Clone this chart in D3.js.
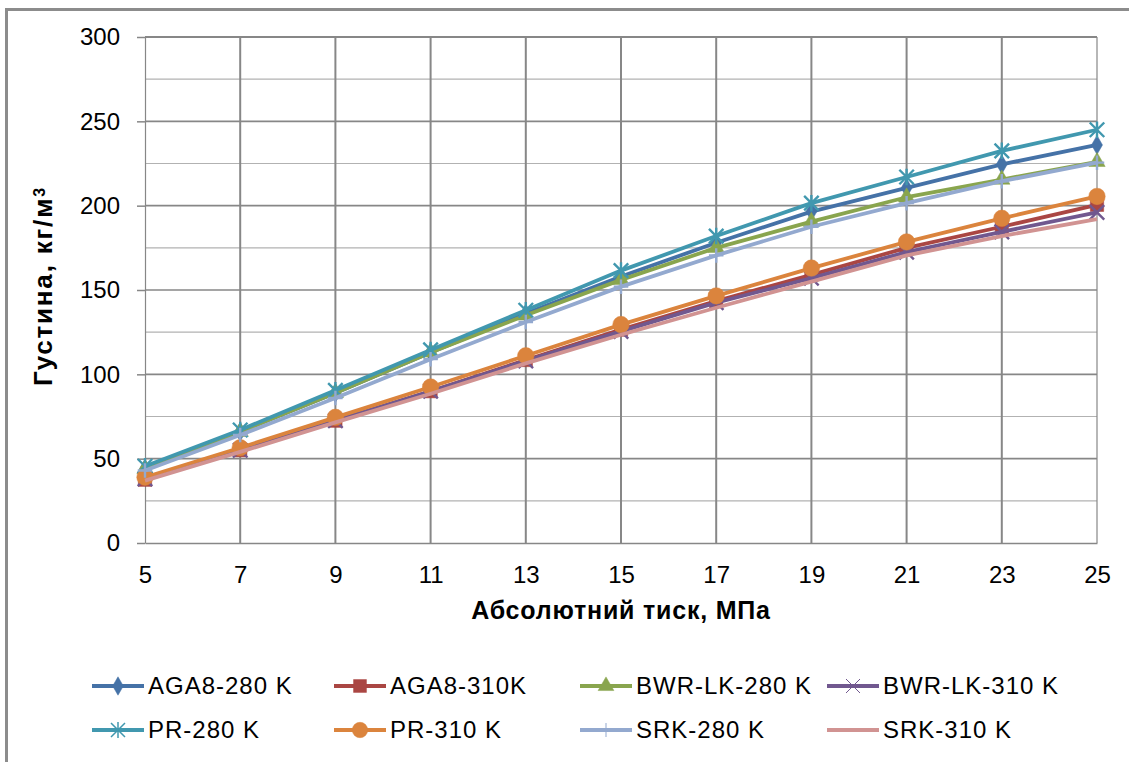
<!DOCTYPE html>
<html>
<head>
<meta charset="utf-8">
<script src="https://cdn.jsdelivr.net/npm/d3@7"></script>
<style>
  body { margin: 0; background: #fff; }
  svg { display: block; font-family: "Liberation Sans", Arial, sans-serif; }
</style>
</head>
<body>
<div id="chart"></div>
<script>
// pressure, MPa
const pressure = [5, 7, 9, 11, 13, 15, 17, 19, 21, 23, 25];

// density, kg/m3
const aga8_280 = [44, 66, 89, 113, 136, 158, 178, 196.5, 210.5, 224.5, 236];
const aga8_310 = [37.5, 55, 72.5, 90, 108.5, 126.5, 143.5, 159, 175, 187.5, 200.5];
const bwr_280 = [44, 66, 89, 113, 135, 156, 175, 190.5, 205, 215.5, 226];
const bwr_310 = [38, 55, 72.5, 90, 108, 125.5, 142.5, 157, 172.5, 184.5, 196];
const pr_280 = [45.5, 67, 90.5, 114.5, 138, 161.5, 182, 201.5, 217, 232.5, 245];
const pr_310 = [39, 56.5, 74.5, 92.5, 111, 129.5, 146.5, 163, 178.5, 192.5, 205.5];
const srk_280 = [43, 64, 86, 109, 131, 152, 170.5, 187.5, 201.5, 214.5, 225.5];
const srk_310 = [37, 54, 71.5, 88.5, 106.5, 123.5, 139.5, 155, 170.5, 182, 192];

const seriesNames = ["AGA8-280 K", "AGA8-310K", "BWR-LK-280 K", "BWR-LK-310 K",
  "PR-280 K", "PR-310 K", "SRK-280 K", "SRK-310 K"];
const seriesValues = [aga8_280, aga8_310, bwr_280, bwr_310, pr_280, pr_310, srk_280, srk_310];

const xTicks = [5, 7, 9, 11, 13, 15, 17, 19, 21, 23, 25];
const yTicks = [0, 50, 100, 150, 200, 250, 300];
const yMinor = [25, 75, 125, 175, 225, 275];

const colors = ["#4572A7", "#AA4643", "#89A54E", "#71588F", "#4198AF", "#DB843D", "#93A9CF", "#D19392"];
const markers = ["diamond", "square", "triangle", "x", "star", "circle", "plus", "none"];

const width = 1129;
const height = 762;

const svg = d3.select("#chart")
  .append("svg")
  .attr("width", width)
  .attr("height", height);

svg.append("rect").attr("width", width).attr("height", height).attr("fill", "#fff");

// outer chart border (only top and left visible)
svg.append("path")
  .attr("d", "M6.5,762 L6.5,9.5 L1129,9.5")
  .attr("fill", "none")
  .attr("stroke", "#8c8c8c")
  .attr("stroke-width", 3);

const x = d3.scaleLinear().domain([5, 25]).range([145, 1097]);
const y = d3.scaleLinear().domain([0, 300]).range([543, 37]);

// gridlines
const grid = svg.append("g");
grid.selectAll("line.minor")
  .data(yMinor)
  .join("line")
  .attr("class", "minor")
  .attr("x1", x(5)).attr("x2", x(25))
  .attr("y1", (d) => y(d)).attr("y2", (d) => y(d))
  .attr("stroke", "#b2b2b2")
  .attr("stroke-width", 1.2);

grid.selectAll("line.major")
  .data(yTicks.filter((d) => d > 0))
  .join("line")
  .attr("class", "major")
  .attr("x1", x(5)).attr("x2", x(25))
  .attr("y1", (d) => y(d)).attr("y2", (d) => y(d))
  .attr("stroke", "#878787")
  .attr("stroke-width", (d) => (d === 300 ? 2 : 1.7));

grid.selectAll("line.vert")
  .data(xTicks.filter((d) => d > 5))
  .join("line")
  .attr("class", "vert")
  .attr("x1", (d) => x(d)).attr("x2", (d) => x(d))
  .attr("y1", y(0)).attr("y2", y(300))
  .attr("stroke", "#878787")
  .attr("stroke-width", (d) => (d === 25 ? 1.2 : 2));

// axes
const yAxis = svg.append("g")
  .attr("transform", `translate(${x(5)},0)`)
  .call(d3.axisLeft(y).tickValues(yTicks).tickSize(8).tickSizeOuter(0).tickPadding(17));

const xAxis = svg.append("g")
  .attr("transform", `translate(0,${y(0)})`)
  .call(d3.axisBottom(x).tickValues(xTicks).tickSize(0).tickSizeOuter(0).tickPadding(23));

yAxis.select(".domain").attr("stroke", "#878787").attr("stroke-width", 1.2);
xAxis.select(".domain").attr("stroke", "#878787").attr("stroke-width", 1.5);
yAxis.selectAll(".tick line").attr("stroke", "#878787").attr("stroke-width", 1.5);
[yAxis, xAxis].forEach((ax) => {
  ax.selectAll(".tick text")
    .attr("fill", "#000")
    .style("font-size", "24px")
    .style("font-family", '"Liberation Sans", Arial, sans-serif');
});

// marker drawing
function markerPath(type, s) {
  const h = s / 2;
  switch (type) {
    case "diamond":
      return d3.symbol(d3.symbolDiamond, s * s * 0.5)();
    case "square":
      return d3.symbol(d3.symbolSquare, s * s * 0.85)();
    case "triangle":
      return d3.symbol(d3.symbolTriangle, s * s * 0.55)();
    case "circle":
      return d3.symbol(d3.symbolCircle, s * s * 0.95)();
    case "x":
      return `M${-h},${-h}L${h},${h}M${-h},${h}L${h},${-h}`;
    case "plus":
      return `M${-h},0L${h},0M0,${-h}L0,${h}`;
    case "star":
      return `M${-h},${-h}L${h},${h}M${-h},${h}L${h},${-h}M0,${-h - 1}L0,${h + 1}`;
    default:
      return "";
  }
}

function drawMarker(g, type, color, s, strokeW) {
  if (type === "none") return;
  const open = type === "x" || type === "plus" || type === "star";
  g.append("path")
    .attr("d", markerPath(type, s))
    .attr("fill", open ? "none" : color)
    .attr("stroke", color)
    .attr("stroke-width", open ? strokeW : 0.5);
}

const line = d3.line()
  .x((d, i) => x(pressure[i]))
  .y((d) => y(d));

const plot = svg.append("g");
seriesValues.forEach((vals, si) => {
  const g = plot.append("g");
  g.append("path")
    .attr("d", line(vals))
    .attr("fill", "none")
    .attr("stroke", colors[si])
    .attr("stroke-width", 3.8)
    .attr("stroke-linejoin", "round");

  vals.forEach((v, i) => {
    const m = g.append("g").attr("transform", `translate(${x(pressure[i])},${y(v)})`);
    drawMarker(m, markers[si], colors[si], markers[si] === "circle" ? 15 : 14.5, 2.4);
  });
});

// legend
const legendCols = [92, 334, 580, 827];
const legendRows = [686, 730];
const legend = svg.append("g");
seriesNames.forEach((name, i) => {
  const cx = legendCols[i % 4];
  const cy = legendRows[Math.floor(i / 4)];
  const g = legend.append("g").attr("transform", `translate(${cx},${cy})`);
  g.append("line")
    .attr("x1", 0).attr("x2", 52)
    .attr("y1", 0).attr("y2", 0)
    .attr("stroke", colors[i])
    .attr("stroke-width", 3.8);
  const m = g.append("g").attr("transform", "translate(26,0)");
  drawMarker(m, markers[i], colors[i], markers[i] === "circle" ? 14 : 14,
    markers[i] === "star" ? 1.5 : 1);
  g.append("text")
    .attr("x", 56)
    .attr("y", 0)
    .attr("dy", "0.35em")
    .style("font-size", "24px")
    .style("letter-spacing", "1px")
    .text(name);
});

// axis titles
svg.append("text")
  .attr("x", 621)
  .attr("y", 619)
  .attr("text-anchor", "middle")
  .style("font-size", "25px")
  .style("font-weight", "bold")
  .style("letter-spacing", "0.8px")
  .text("Абсолютний тиск, МПа");

const yTitle = svg.append("text")
  .attr("transform", "translate(52,286) rotate(-90)")
  .attr("text-anchor", "middle")
  .style("font-size", "26px")
  .style("font-weight", "bold")
  .style("letter-spacing", "1.8px");
yTitle.append("tspan").text("Густина, кг/м");
yTitle.append("tspan")
  .attr("dy", "-0.45em")
  .style("font-size", "16px")
  .text("3");
</script>
</body>
</html>
